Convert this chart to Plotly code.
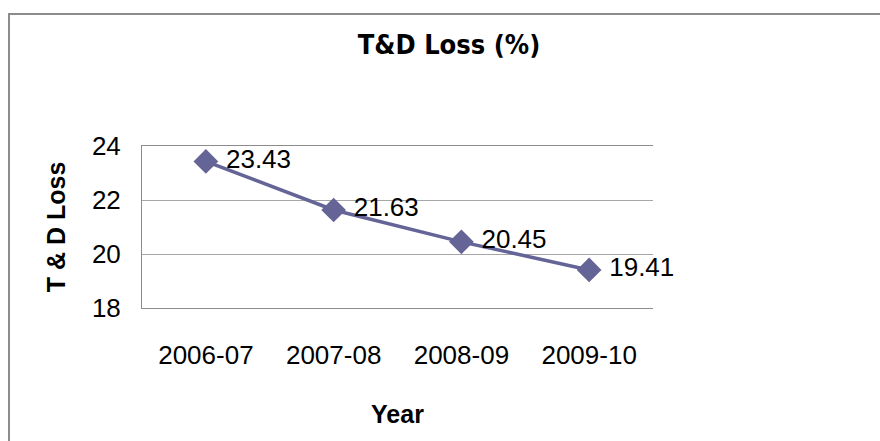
import plotly.graph_objects as go

years = ["2006-07", "2007-08", "2008-09", "2009-10"]
td_loss = [23.43, 21.63, 20.45, 19.41]
y_ticks = [18, 20, 22, 24]

W, H = 880, 441
L, R, T, B = 142, 653, 146, 308  # plot area in pixels

def px_x(px):
    return (px - L) / (R - L)

def px_y(py):
    return (B - py) / (B - T)

fig = go.Figure()
fig.add_trace(go.Scatter(
    x=years, y=td_loss,
    mode="lines+markers+text",
    line=dict(color="#646497", width=3.5),
    marker=dict(symbol="diamond", size=19, color="#646497"),
    texttemplate=" %{y:.2f}",
    textposition="middle right",
    textfont=dict(family="Liberation Sans, Arial", size=26, color="#000"),
    cliponaxis=False,
    showlegend=False,
    hoverinfo="skip",
))

fig.update_layout(
    width=W, height=H,
    margin=dict(l=L, r=W - R, t=T, b=H - B, pad=0),
    paper_bgcolor="white", plot_bgcolor="white",
    font=dict(family="Liberation Sans, Arial", color="#000"),
    title=dict(
        text="T&D Loss (%)",
        font=dict(family="DejaVu Sans Condensed, Liberation Sans Narrow, Liberation Sans", size=27, weight="bold", color="#000"),
        xref="paper", x=px_x(449), xanchor="center",
        yref="container", y=1 - 45 / H, yanchor="middle",
    ),
    xaxis=dict(
        type="category",
        showgrid=False,
        showline=True, linecolor="#8c8c8c", linewidth=1, mirror=True,
        ticks="",
        tickfont=dict(size=26),
        ticklabelstandoff=24,
        title=dict(text="Year", font=dict(size=25, weight="bold"), standoff=36),
        range=[-0.5, 3.5],
    ),
    yaxis=dict(
        range=[18, 24],
        tickvals=y_ticks,
        showgrid=True, gridcolor="#a6a6a6", gridwidth=1,
        showline=True, linecolor="#8c8c8c", linewidth=1,
        ticks="",
        tickfont=dict(size=26),
        ticklabelstandoff=15,
        title=dict(text="T & D Loss", font=dict(size=25, weight="bold"), standoff=19),
        zeroline=False,
    ),
)

# outer chart border (cut off at right and bottom)
fig.add_shape(
    type="rect", xref="paper", yref="paper",
    x0=px_x(9), x1=px_x(900), y0=px_y(470), y1=px_y(14),
    line=dict(color="#8c8c8c", width=2), fillcolor="rgba(0,0,0,0)",
    layer="below",
)

fig.write_html(
    "out.html",
    config={"displayModeBar": False},
    post_script="document.body.style.margin='0';document.body.style.overflow='hidden';",
)
